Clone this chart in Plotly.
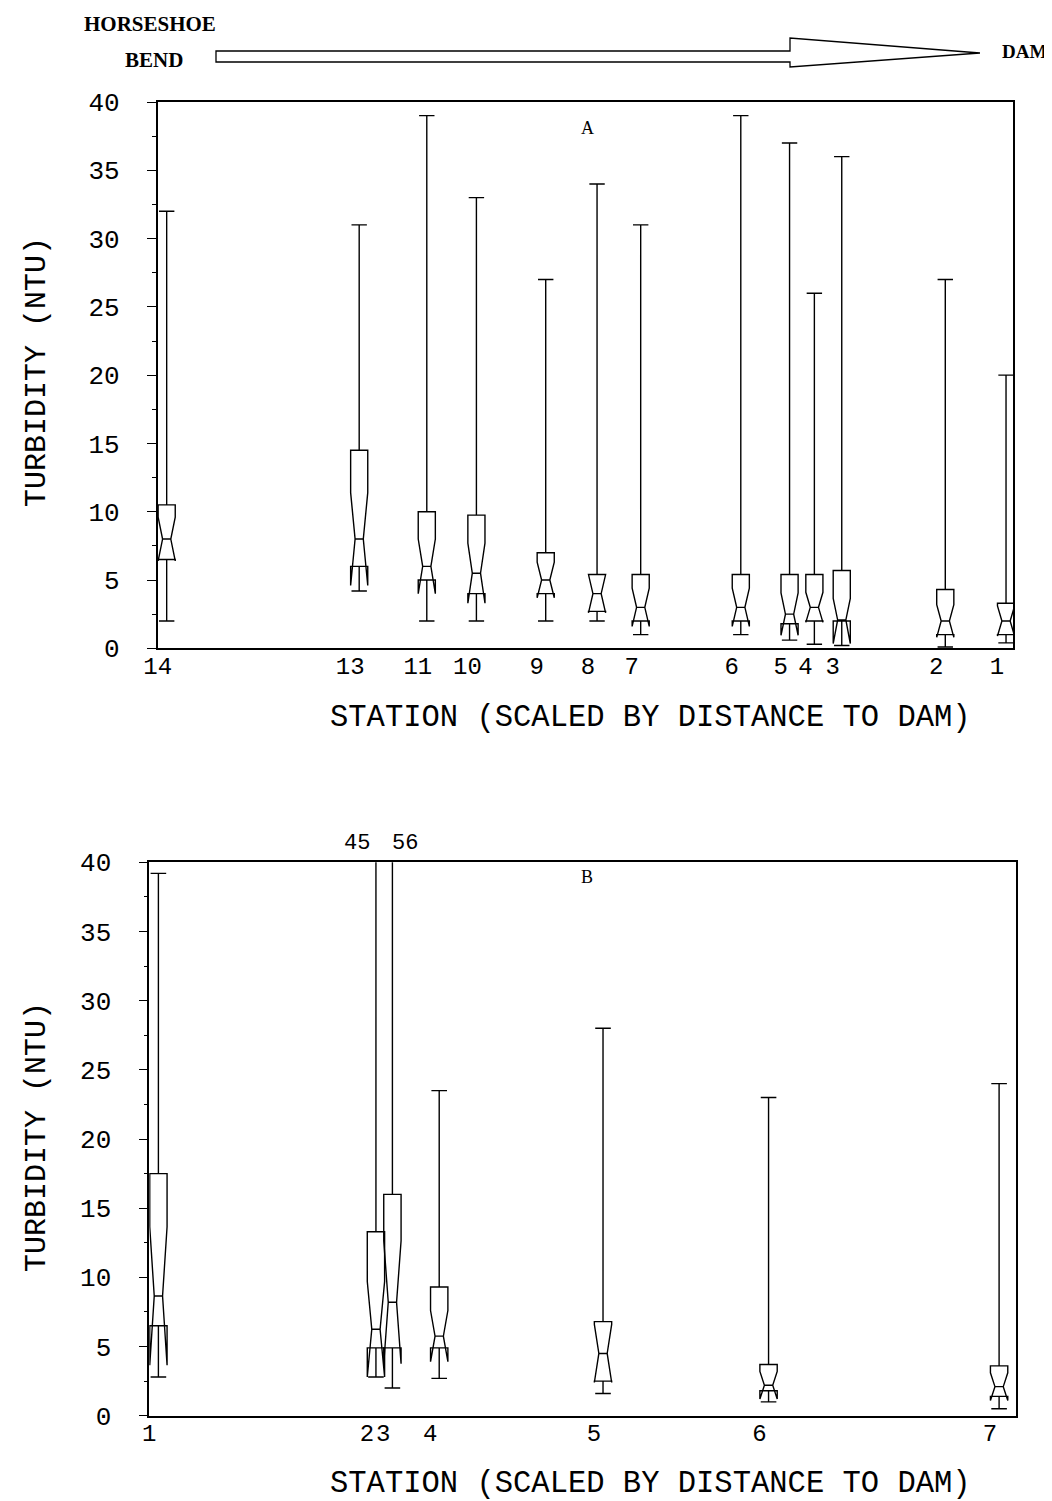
import plotly.graph_objects as go

# ---------------- data ----------------
# Panel A (stations scaled by relative distance, Horseshoe Bend -> Dam)
stations_a = ["14", "13", "11", "10", "9", "8", "7", "6", "5", "4", "3", "2", "1"]
dist_a = [0, 22.5, 30.4, 36.2, 44.3, 50.3, 55.4, 67.1, 72.8, 75.7, 78.9, 91.0, 98.1]
min_a = [2.0, 4.2, 2.0, 2.0, 2.0, 2.0, 1.0, 1.0, 0.6, 0.3, 0.2, 0.1, 0.4]
q1_a = [6.5, 6.0, 5.0, 4.0, 4.0, 2.7, 2.0, 2.0, 1.8, 2.0, 2.0, 1.0, 1.0]
med_a = [8.0, 8.0, 6.0, 5.5, 5.0, 4.0, 3.0, 3.0, 2.5, 3.0, 2.0, 2.0, 2.0]
q3_a = [10.5, 14.5, 10.0, 9.75, 7.0, 5.4, 5.4, 5.4, 5.4, 5.4, 5.7, 4.3, 3.3]
max_a = [32, 31, 39, 33, 27, 34, 31, 39, 37, 26, 36, 27, 20]
notch_a = [1.6, 3.4, 2.0, 2.2, 1.3, 1.4, 1.4, 1.4, 1.55, 1.1, 1.65, 1.2, 1.1]

# Panel B
stations_b = ["1", "2", "3", "4", "5", "6", "7"]
dist_b = [0, 25.1, 27.0, 32.4, 51.3, 70.4, 97.0]
min_b = [2.8, 2.8, 2.0, 2.7, 1.6, 1.0, 0.5]
q1_b = [6.5, 4.9, 4.9, 4.9, 2.5, 1.8, 1.4]
med_b = [8.65, 6.25, 8.2, 5.75, 4.5, 2.2, 2.1]
q3_b = [17.5, 13.3, 16.0, 9.3, 6.8, 3.7, 3.6]
max_b = [39.2, 45, 56, 23.5, 28, 23, 24]
notch_b = [5.0, 3.45, 4.45, 1.85, 2.1, 1.0, 1.0]

y_ticks = [0, 5, 10, 15, 20, 25, 30, 35, 40]

# ---------------- layout helpers ----------------
PAGE = 8                      # default body margin of the html page
W, H = 1052 - PAGE, 1501 - PAGE
def px(x):
    return (x - PAGE) / W
def py(y):
    return 1 - (y - PAGE) / H

MONO = "Liberation Mono, Courier New, monospace"
SERIF = "Liberation Serif, Times New Roman, serif"
BOX_W = 2.0      # box width (x units)
BOX_OFF = 1.05   # boxes drawn just right of station tick

fig = go.Figure()

def add_boxes(dist, q1, med, q3, lo, hi, notch, xa, ya):
    fig.add_trace(go.Box(
        x=[d + BOX_OFF for d in dist],
        q1=q1, median=med, q3=q3, lowerfence=lo, upperfence=hi,
        notchspan=notch, notched=True, notchwidth=0.26,
        width=BOX_W, whiskerwidth=0.9,
        boxpoints=False,
        line=dict(color="black", width=1.4),
        fillcolor="rgba(0,0,0,0)",
        hoverinfo="skip", showlegend=False,
        xaxis=xa, yaxis=ya,
    ))

add_boxes(dist_a, q1_a, med_a, q3_a, min_a, max_a, notch_a, "x", "y")
add_boxes(dist_b, q1_b, med_b, q3_b, min_b, max_b, notch_b, "x2", "y2")

common_x = dict(range=[0, 100], showline=True, linecolor="black", linewidth=1.6,
                mirror=True, showgrid=False, zeroline=False, ticks="", automargin=False,
                ticklabelstandoff=-5,
                tickfont=dict(family=MONO, size=24, color="black"))
common_y = dict(range=[0, 40], tickvals=y_ticks, showline=True, linecolor="black",
                linewidth=1.6, mirror=True, showgrid=False, zeroline=False, automargin=False,
                ticks="outside", ticklen=9, tickwidth=1.2, tickcolor="black",
                minor=dict(dtick=2.5, ticks="outside", ticklen=4, tickcolor="black", tickwidth=1),
                ticklabelstandoff=22,
                tickfont=dict(family=MONO, size=26, color="black"))

fig.update_layout(
    width=W, height=H,
    margin=dict(l=0, r=0, t=0, b=0, pad=0, autoexpand=False),
    paper_bgcolor="white", plot_bgcolor="white",
    showlegend=False,
    xaxis=dict(common_x, domain=[px(157.7), px(1013.3)], anchor="y",
               tickvals=dist_a, ticktext=stations_a),
    yaxis=dict(common_y, domain=[py(648.3), py(102)], anchor="x"),
    xaxis2=dict(common_x, domain=[px(149.3), px(1016)], anchor="y2",
                tickvals=dist_b, ticktext=stations_b),
    yaxis2=dict(common_y, domain=[py(1415.7), py(862.3)], anchor="x2"),
)

ann = []
# axis titles
for yc in (372, 1137):
    ann.append(dict(text="TURBIDITY (NTU)", x=px(37), y=py(yc), xref="paper", yref="paper",
                    textangle=-90, showarrow=False, xanchor="center", yanchor="middle",
                    font=dict(family=MONO, size=30, color="black")))
for yc in (718, 1484):
    ann.append(dict(text="STATION (SCALED BY DISTANCE TO DAM)", x=px(650), y=py(yc),
                    xref="paper", yref="paper", showarrow=False,
                    xanchor="center", yanchor="middle",
                    font=dict(family=MONO, size=30.5, color="black")))
# panel letters
ann.append(dict(text="A", x=px(587), y=py(116), xref="paper", yref="paper", showarrow=False,
                font=dict(family=SERIF, size=18, color="black")))
ann.append(dict(text="B", x=px(587), y=py(877), xref="paper", yref="paper", showarrow=False,
                font=dict(family=SERIF, size=18, color="black")))
# off-scale maxima in panel B
off = [i for i, v in enumerate(max_b) if v > 40]
for k, i in enumerate(off):
    ann.append(dict(text=f"{max_b[i]:g}", x=dist_b[i] + BOX_OFF, y=py(843),
                    xref="x2", yref="paper", showarrow=False,
                    xanchor="right" if k == 0 else "left",
                    xshift=-4 if k == 0 else -2, yanchor="middle",
                    font=dict(family=MONO, size=22, color="black")))
# header
ann.append(dict(text="<b>HORSESHOE</b>", x=px(82), y=py(24), xref="paper", yref="paper",
                showarrow=False, xanchor="left", yanchor="middle",
                font=dict(family=SERIF, size=21, color="black")))
ann.append(dict(text="<b>BEND</b>", x=px(123), y=py(60), xref="paper", yref="paper",
                showarrow=False, xanchor="left", yanchor="middle",
                font=dict(family=SERIF, size=21, color="black")))
ann.append(dict(text="<b>DAM</b>", x=px(1000), y=py(51), xref="paper", yref="paper",
                showarrow=False, xanchor="left", yanchor="middle",
                font=dict(family=SERIF, size=19, color="black")))
fig.update_layout(annotations=ann)

# header arrow (outline)
pts = [(216, 51), (790, 51), (790, 38), (980, 53), (790, 67), (790, 62), (216, 62)]
path = "M " + " L ".join(f"{px(x):.5f},{py(y):.5f}" for x, y in pts) + " Z"
fig.add_shape(type="path", path=path, xref="paper", yref="paper",
              line=dict(color="black", width=1.3), fillcolor="white")

fig.write_html("out.html")
